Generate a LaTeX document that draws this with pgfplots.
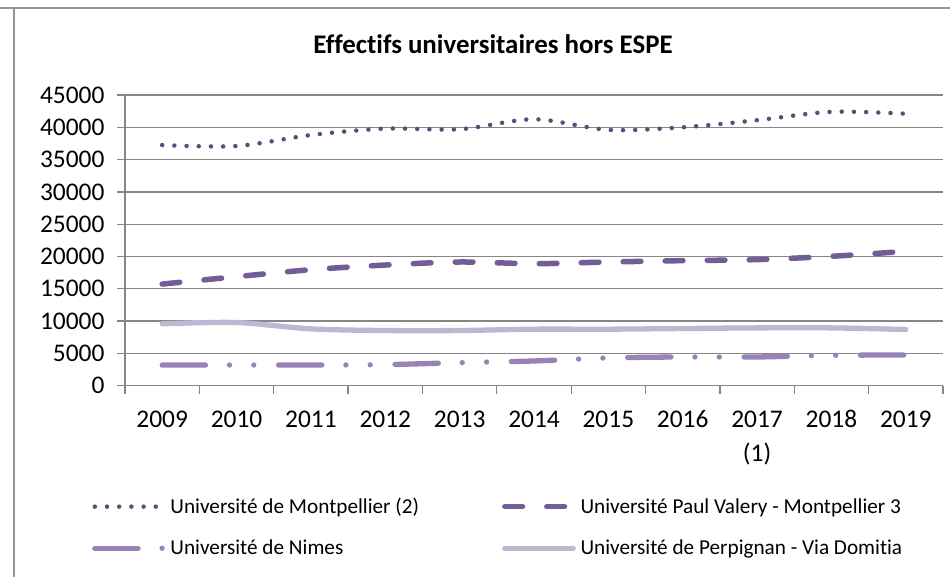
\documentclass[border=0pt]{standalone}
\usepackage{fontspec}
\setmainfont{Carlito}[Ligatures=NoCommon]
\usepackage{pgfplots}
\pgfplotsset{compat=1.18}
\usepackage{pgfplotstable}

\definecolor{montp}{RGB}{96,74,123}
\definecolor{valery}{RGB}{114,93,152}
\definecolor{nimes}{RGB}{152,131,181}
\definecolor{perpi}{RGB}{191,182,210}
\definecolor{gridc}{RGB}{134,134,134}
\definecolor{framec}{RGB}{150,150,150}

% Effectifs par annee (0 = 2009 ... 10 = 2019)
\pgfplotstableread{
idx montpellier valery nimes perpignan
0   37250 15730 3200 9580
1   37100 16880 3200 9780
2   38800 17960 3200 8800
3   39800 18680 3260 8540
4   39700 19150 3570 8540
5   41250 18890 3830 8750
6   39600 19150 4300 8750
7   40000 19360 4450 8850
8   41100 19520 4450 8950
9   42400 20030 4700 8950
10  42100 20800 4760 8700
}\effectifs

\begin{document}
\begin{tikzpicture}
\useasboundingbox (0,0) rectangle (950bp,-577bp);
\draw[framec, line width=1.5bp] (0,-8bp) -- (950bp,-8bp) (14bp,-8bp) -- (14bp,-577bp);
\begin{axis}[
  at={(125bp,-385.7bp)}, anchor=south west,
  width=818bp, height=290.7bp, scale only axis,
  xmin=-0.5, xmax=10.5, ymin=0, ymax=45000,
  axis x line*=bottom, axis y line*=left,
  axis line style={-, draw=gridc, line width=1.3bp},
  ymajorgrids, grid style={draw=gridc, line width=1.3bp},
  tick style={draw=gridc, line width=1.3bp},
  tick align=outside, major tick length=8bp,
  ytick={0,5000,...,45000},
  scaled y ticks=false,
  /pgf/number format/assume math mode=true,
  /pgf/number format/1000 sep={},
  yticklabel style={font=\fontsize{25.5}{30}\selectfont, anchor=east, xshift=-9bp},
  xtick={-0.5,0.5,...,10.5}, xticklabels={},
  extra x ticks={0,1,...,10},
  extra x tick labels={2009,2010,2011,2012,2013,2014,2015,2016,
    {\begin{tabular}[t]{@{}c@{}}2017\\(1)\end{tabular}},2018,2019},
  extra x tick style={major tick length=0pt,
    xticklabel style={font=\fontsize{25.5}{34}\selectfont, anchor=base, yshift=-42bp}},
  title={\textbf{Effectifs universitaires hors ESPE}},
  title style={font=\fontsize{27}{32}\selectfont, at={(axis description cs:0.4499,1.155)}, anchor=center},
  legend columns=2,
  legend cell align=left,
  legend image code/.code={\draw[#1] (0bp,0bp) -- (68.5bp,0bp);},
  legend style={at={(axis description cs:-0.0404,-0.386)}, anchor=north west,
    draw=none, fill=none, inner sep=0pt,
    font=\fontsize{21.3}{25}\selectfont,
    nodes={inner sep=0pt},
    row sep=25bp,
    /tikz/every odd column/.append style={column sep=4.5bp},
    /tikz/every even column/.append style={column sep=83bp}},
]
\addplot[montp, line width=4.5bp, line cap=round, dash pattern=on 0bp off 12.2bp, smooth]
  table[x=idx, y=montpellier]{\effectifs};
\addlegendentry{Université de Montpellier (2)}
\addplot[valery, line width=5.5bp, line cap=round, dash pattern=on 17.7bp off 24.3bp, smooth]
  table[x=idx, y=valery]{\effectifs};
\addlegendentry{Université Paul Valery - Montpellier 3}
\addplot[nimes, line width=5.3bp, line cap=round,
  dash pattern=on 43.3bp off 24bp on 0bp off 24.3bp on 0bp off 24.8bp, smooth]
  table[x=idx, y=nimes]{\effectifs};
\addlegendentry{Université de Nimes}
\addplot[perpi, line width=5.3bp, line cap=round, smooth]
  table[x=idx, y=perpignan]{\effectifs};
\addlegendentry{Université de Perpignan - Via Domitia}
\end{axis}
\end{tikzpicture}
\end{document}
